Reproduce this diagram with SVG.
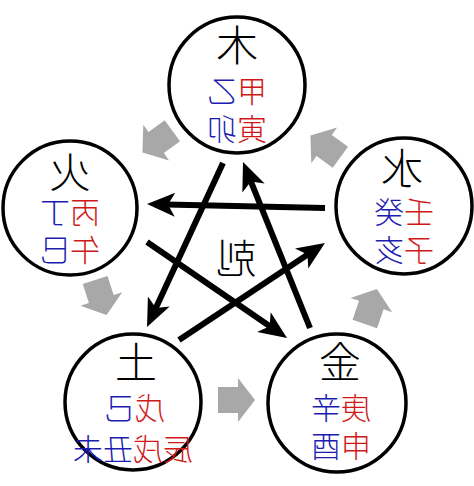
<svg xmlns="http://www.w3.org/2000/svg" width="474" height="486" viewBox="0 0 474 486">
<style>
.c{fill:#fff;stroke:#000;stroke-width:3.5}
.t{font-family:"Noto Sans CJK JP","Noto Sans CJK SC",sans-serif;font-weight:300;text-anchor:middle;dominant-baseline:central}
.e{font-size:42px;fill:#000}
.s{font-size:30px}
.r{fill:#d01818}
.b{fill:#1c1cb0}
.k{stroke:#000;stroke-width:6;fill:none;marker-end:url(#ah)}
.g{fill:#a8a8a8}
</style>
<defs>
<marker id="ah" markerUnits="userSpaceOnUse" viewBox="-22 -14 32 28" refX="0" refY="0" markerWidth="32" markerHeight="28" orient="auto">
<path d="M8,0 L-20,-12 L-13,0 L-20,12 Z" fill="#000"/>
</marker>
<path id="ga" d="M-19,-13 L1,-13 L1,-22 L18,0 L1,22 L1,13 L-19,13 Z"/>
</defs>
<rect width="474" height="486" fill="#fff"/>
<g transform="matrix(-1 0 0 1 474 0)">
<g id="cycle" class="g">
<use href="#ga" transform="translate(317,142) rotate(36)"/>
<use href="#ga" transform="translate(373,298) rotate(108)"/>
<use href="#ga" transform="translate(237,400) rotate(180)"/>
<use href="#ga" transform="translate(103,306) rotate(-109)"/>
<use href="#ga" transform="translate(149,146) rotate(-36)"/>
</g>
<g id="connectors">
<line class="k" x1="149" y1="208" x2="319" y2="204.2"/>
<line class="k" x1="251" y1="163" x2="323.6" y2="319.7"/>
<line class="k" x1="164" y1="328" x2="228" y2="169.4"/>
<line class="k" x1="327" y1="242" x2="193.6" y2="333.5"/>
<line class="k" x1="295" y1="340" x2="155.7" y2="247.4"/>
</g>
<g id="center"><text class="t" x="238" y="256" font-size="40">剋</text></g>
<g id="wood">
<circle class="c" cx="237" cy="85" r="68"/>
<text class="t e" x="237" y="42">木</text>
<text class="t s" x="237" y="88.5"><tspan class="r">甲</tspan><tspan class="b">乙</tspan></text>
<text class="t s" x="237" y="126.5"><tspan class="r">寅</tspan><tspan class="b">卯</tspan></text>
</g>
<g id="fire">
<circle class="c" cx="404" cy="208" r="67"/>
<text class="t e" x="404" y="169">火</text>
<text class="t s" x="404" y="209.5"><tspan class="r">丙</tspan><tspan class="b">丁</tspan></text>
<text class="t s" x="404" y="248"><tspan class="r">午</tspan><tspan class="b">巳</tspan></text>
</g>
<g id="water">
<circle class="c" cx="70" cy="206" r="68"/>
<text class="t e" x="72" y="165">水</text>
<text class="t s" x="70" y="209.5"><tspan class="r">壬</tspan><tspan class="b">癸</tspan></text>
<text class="t s" x="70" y="247.5"><tspan class="r">子</tspan><tspan class="b">亥</tspan></text>
</g>
<g id="earth">
<circle class="c" cx="341" cy="402" r="68"/>
<text class="t e" x="338" y="359">土</text>
<text class="t s" x="339" y="406"><tspan class="r">戊</tspan><tspan class="b">己</tspan></text>
<text class="t s" x="341" y="447" font-size="32"><tspan class="r">辰戌</tspan><tspan class="b">丑未</tspan></text>
</g>
<g id="metal">
<circle class="c" cx="137" cy="403" r="69"/>
<text class="t e" x="134" y="359">金</text>
<text class="t s" x="133" y="406"><tspan class="r">庚</tspan><tspan class="b">辛</tspan></text>
<text class="t s" x="133" y="444"><tspan class="r">申</tspan><tspan class="b">酉</tspan></text>
</g>
</g>
</svg>
